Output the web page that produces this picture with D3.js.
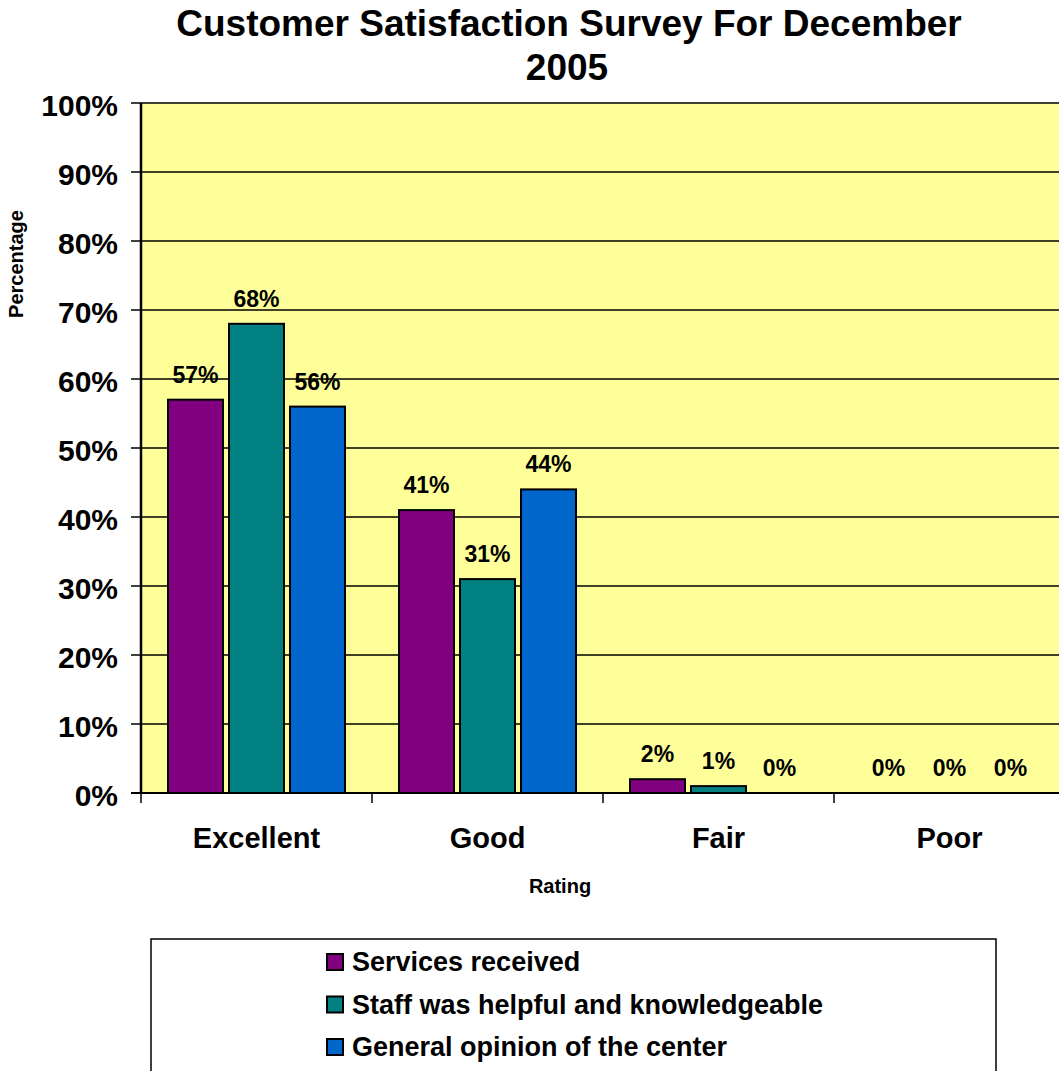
<!DOCTYPE html>
<html>
<head>
<meta charset="utf-8">
<script src="https://cdn.jsdelivr.net/npm/d3@7"></script>
<style>
  html, body { margin: 0; padding: 0; background: #ffffff; }
  svg { display: block; }
  text { font-family: "Liberation Sans", Arial, sans-serif; font-weight: bold; fill: #000; }
</style>
</head>
<body>
<svg id="chart" width="1059" height="1071"></svg>
<script>
// Survey results (percent of respondents)
const categories = ["Excellent", "Good", "Fair", "Poor"];
const seriesNames = [
  "Services received",
  "Staff was helpful and knowledgeable",
  "General opinion of the center"
];
const servicesReceived = [57, 41, 2, 0];
const staffHelpful = [68, 31, 1, 0];
const generalOpinion = [56, 44, 0, 0];
const yTicks = [0, 10, 20, 30, 40, 50, 60, 70, 80, 90, 100];
const seriesColors = ["#800080", "#008080", "#0066CC"];

const seriesValues = [servicesReceived, staffHelpful, generalOpinion];
const rows = categories.map((c, i) => ({
  category: c,
  values: seriesNames.map((s, j) => ({ series: s, value: seriesValues[j][i], idx: j }))
}));

const svg = d3.select("#chart");

// Plot geometry
const plot = { left: 141, top: 103, bottom: 793, step: 231 };
const plotRight = plot.left + plot.step * categories.length;

const x = d3.scaleBand()
  .domain(categories)
  .range([plot.left, plotRight])
  .paddingInner(0.2338)
  .paddingOuter(0.1169);

const xSub = d3.scaleBand()
  .domain(seriesNames)
  .range([0, x.bandwidth()])
  .paddingInner(6 / 61)
  .paddingOuter(0);

const y = d3.scaleLinear().domain([0, 100]).range([plot.bottom, plot.top]);

// Plot background
svg.append("rect")
  .attr("x", plot.left).attr("y", plot.top)
  .attr("width", plotRight - plot.left).attr("height", plot.bottom - plot.top)
  .attr("fill", "#FFFF99");

// Horizontal gridlines
svg.append("g").selectAll("line")
  .data(yTicks.filter(t => t > 0))
  .join("line")
  .attr("x1", plot.left).attr("x2", plotRight)
  .attr("y1", d => y(d)).attr("y2", d => y(d))
  .attr("stroke", "#000").attr("stroke-width", 1.5);

// Title
const title = svg.append("text")
  .attr("text-anchor", "middle")
  .style("font-size", "37px");
title.append("tspan").attr("x", 569).attr("y", 36).text("Customer Satisfaction Survey For December");
title.append("tspan").attr("x", 567).attr("y", 80).text("2005");

// Bars
const groups = svg.append("g").selectAll("g")
  .data(rows)
  .join("g")
  .attr("transform", d => `translate(${x(d.category)},0)`);

groups.selectAll("rect")
  .data(d => d.values.filter(v => v.value > 0))
  .join("rect")
  .attr("x", d => xSub(d.series))
  .attr("y", d => y(d.value))
  .attr("width", xSub.bandwidth())
  .attr("height", d => y(0) - y(d.value))
  .attr("fill", d => seriesColors[d.idx])
  .attr("stroke", "#000")
  .attr("stroke-width", 2);

// Value labels
groups.selectAll("text")
  .data(d => d.values)
  .join("text")
  .attr("x", d => xSub(d.series) + xSub.bandwidth() / 2)
  .attr("y", d => y(d.value) - 17)
  .attr("text-anchor", "middle")
  .style("font-size", "23px")
  .text(d => d.value + "%");

// Y axis
const yAxis = svg.append("g");
yAxis.append("line")
  .attr("x1", plot.left).attr("x2", plot.left)
  .attr("y1", plot.top).attr("y2", plot.bottom)
  .attr("stroke", "#000").attr("stroke-width", 2.5);
yAxis.selectAll("line.tick")
  .data(yTicks)
  .join("line")
  .attr("class", "tick")
  .attr("x1", plot.left - 10).attr("x2", plot.left)
  .attr("y1", d => y(d)).attr("y2", d => y(d))
  .attr("stroke", "#000").attr("stroke-width", 1.5);
yAxis.selectAll("text")
  .data(yTicks)
  .join("text")
  .attr("x", 118)
  .attr("y", d => y(d) + 12.5)
  .attr("text-anchor", "end")
  .style("font-size", "30px")
  .text(d => d + "%");

// X axis
const xAxis = svg.append("g");
xAxis.append("line")
  .attr("x1", plot.left - 10).attr("x2", plotRight)
  .attr("y1", plot.bottom).attr("y2", plot.bottom)
  .attr("stroke", "#000").attr("stroke-width", 2);
xAxis.selectAll("line.tick")
  .data(d3.range(categories.length + 1))
  .join("line")
  .attr("class", "tick")
  .attr("x1", i => plot.left + i * x.step()).attr("x2", i => plot.left + i * x.step())
  .attr("y1", plot.bottom).attr("y2", plot.bottom + 10)
  .attr("stroke", "#000").attr("stroke-width", 1.5);
xAxis.selectAll("text")
  .data(categories)
  .join("text")
  .attr("x", d => x(d) + x.bandwidth() / 2)
  .attr("y", 848)
  .attr("text-anchor", "middle")
  .style("font-size", "29px")
  .text(d => d);

// Axis titles
svg.append("text")
  .attr("x", 560).attr("y", 893)
  .attr("text-anchor", "middle")
  .style("font-size", "20px")
  .text("Rating");

svg.append("text")
  .attr("transform", "translate(23,264) rotate(-90)")
  .attr("text-anchor", "middle")
  .style("font-size", "20px")
  .text("Percentage");

// Legend
const legend = svg.append("g");
legend.append("rect")
  .attr("x", 151).attr("y", 939)
  .attr("width", 845).attr("height", 160)
  .attr("fill", "#fff")
  .attr("stroke", "#000").attr("stroke-width", 1.5);
const items = legend.selectAll("g.item")
  .data(seriesNames)
  .join("g")
  .attr("class", "item")
  .attr("transform", (d, i) => `translate(0,${i * 42.5})`);
items.append("rect")
  .attr("x", 327).attr("y", 954)
  .attr("width", 16).attr("height", 16)
  .attr("fill", (d, i) => seriesColors[i])
  .attr("stroke", "#000").attr("stroke-width", 2);
items.append("text")
  .attr("x", 352).attr("y", 971)
  .style("font-size", "27px")
  .text(d => d);
</script>
</body>
</html>
